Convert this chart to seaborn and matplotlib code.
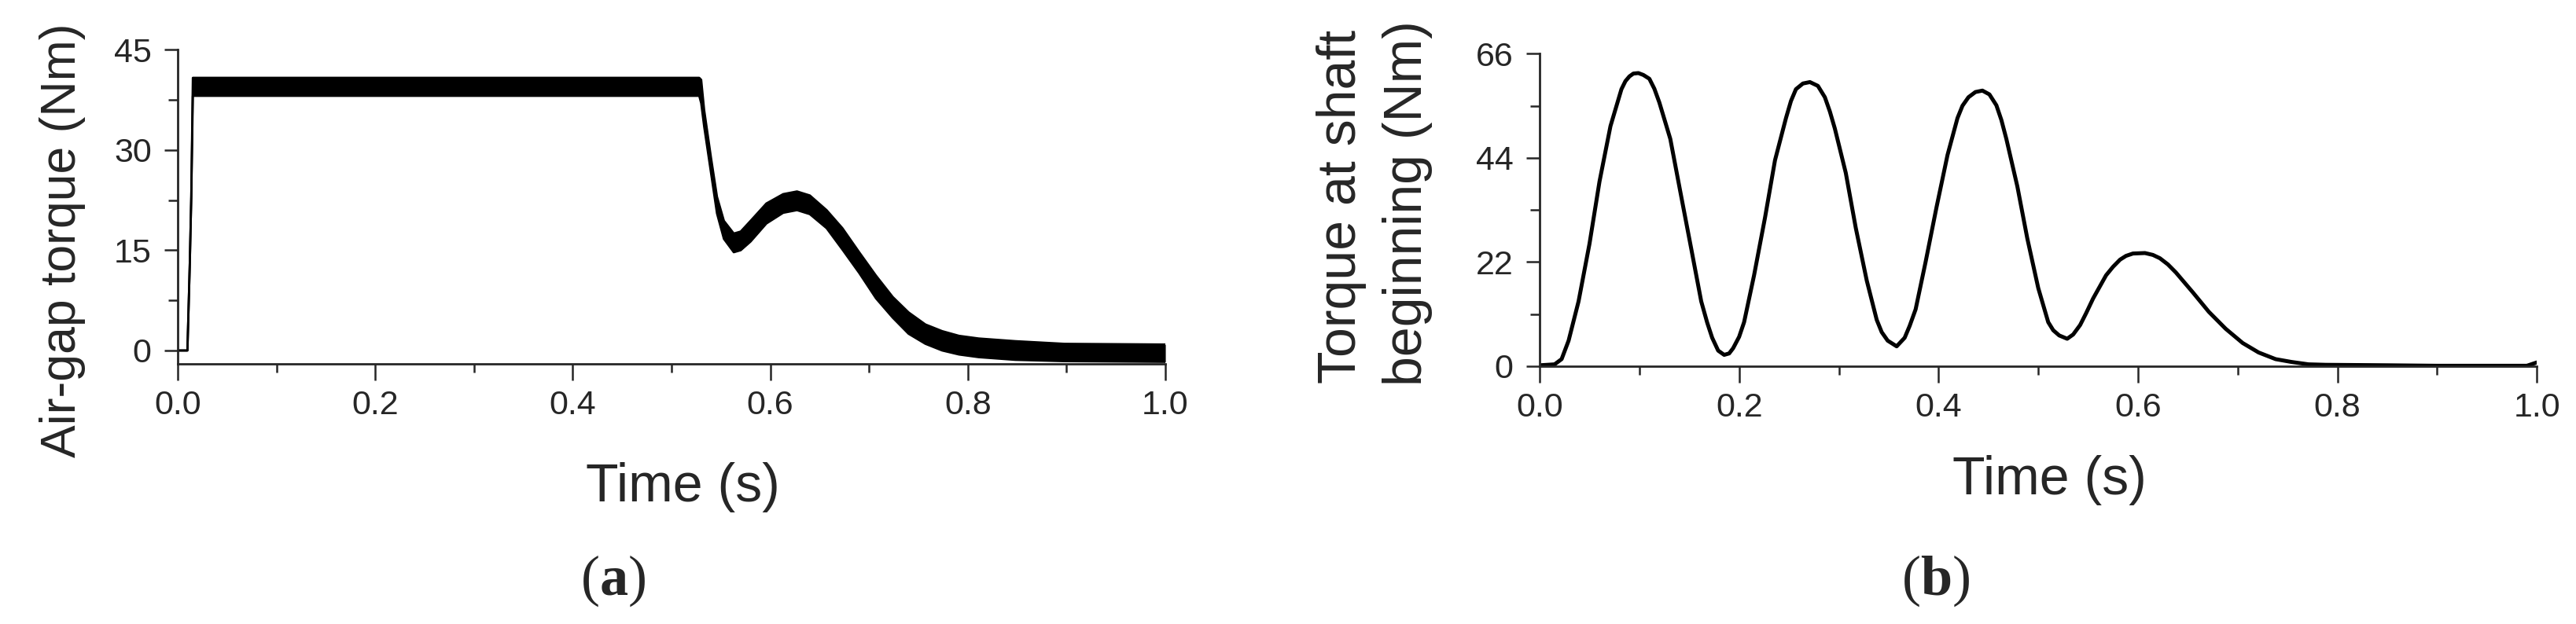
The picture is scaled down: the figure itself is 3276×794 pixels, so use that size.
import matplotlib
matplotlib.use("Agg")
import matplotlib.pyplot as plt
from matplotlib.ticker import MultipleLocator
import pandas as pd
import seaborn as sns

# (a) air-gap torque: lower / upper edge of the noisy band
time_a = [0.0, 0.0098, 0.0122, 0.0137, 0.0153, 0.528, 0.530, 0.533, 0.540, 0.546,
          0.553, 0.563, 0.570, 0.580, 0.596, 0.613, 0.627, 0.640, 0.657, 0.673,
          0.690, 0.707, 0.724, 0.740, 0.757, 0.774, 0.791, 0.811, 0.848, 0.898, 1.0]
torque_a_low = [0.0, 0.0, 13.0, 23.0, 38.1, 38.1, 37.0, 33.5, 26.5, 20.5,
                16.7, 14.7, 15.0, 16.3, 19.0, 20.6, 21.0, 20.4, 18.3, 15.1,
                11.6, 7.8, 4.9, 2.5, 1.0, 0.0, -0.6, -1.0, -1.4, -1.6, -1.7]
torque_a_high = [0.0, 0.0, 13.0, 23.0, 40.8, 40.8, 40.5, 36.0, 28.8, 23.0,
                 19.4, 17.5, 17.8, 19.4, 22.0, 23.4, 23.8, 23.2, 21.0, 18.3,
                 14.7, 11.2, 8.0, 5.7, 3.9, 2.9, 2.2, 1.8, 1.4, 1.0, 0.9]

# (b) torque at shaft beginning
time_b = [0.0, 0.008, 0.015, 0.022, 0.029, 0.039, 0.050, 0.060, 0.071, 0.082,
          0.086, 0.090, 0.094, 0.099, 0.104, 0.110, 0.115, 0.120, 0.131, 0.141,
          0.152, 0.162, 0.168, 0.173, 0.179, 0.185, 0.190, 0.194, 0.200, 0.205,
          0.215, 0.226, 0.236, 0.247, 0.252, 0.257, 0.264, 0.271, 0.279, 0.286,
          0.291, 0.296, 0.307, 0.317, 0.328, 0.338, 0.343, 0.349, 0.358, 0.366,
          0.371, 0.377, 0.387, 0.398, 0.409, 0.419, 0.424, 0.430, 0.437, 0.444,
          0.451, 0.458, 0.463, 0.468, 0.479, 0.489, 0.500, 0.510, 0.515, 0.521,
          0.529, 0.535, 0.542, 0.548, 0.555, 0.568, 0.575, 0.582, 0.588, 0.595,
          0.607, 0.615, 0.622, 0.630, 0.638, 0.655, 0.671, 0.688, 0.705, 0.721,
          0.738, 0.754, 0.771, 0.788, 0.850, 0.900, 0.990, 1.0]
torque_b = [0.2, 0.3, 0.4, 1.5, 5.4, 13.7, 25.9, 39.0, 50.7, 58.5,
            60.2, 61.2, 61.8, 61.9, 61.5, 60.7, 58.6, 55.7, 48.0, 36.9,
            24.8, 13.7, 9.2, 6.0, 3.3, 2.4, 2.7, 3.8, 6.2, 9.3,
            19.2, 31.4, 43.5, 52.4, 56.0, 58.5, 59.7, 60.0, 59.2, 56.8,
            53.8, 50.2, 40.8, 29.2, 18.1, 9.8, 7.2, 5.4, 4.2, 6.0,
            8.5, 12.0, 22.0, 33.6, 44.6, 52.4, 55.0, 56.8, 57.9, 58.2,
            57.4, 55.1, 52.0, 48.0, 38.0, 27.0, 16.5, 9.3, 7.6, 6.5,
            5.8, 6.7, 8.7, 11.2, 14.3, 19.2, 21.0, 22.5, 23.3, 23.8,
            23.9, 23.5, 22.8, 21.5, 19.8, 15.6, 11.5, 7.9, 4.9, 2.9,
            1.5, 0.9, 0.4, 0.3, 0.2, 0.1, 0.1, 0.8]

df_a = pd.DataFrame({"t": time_a, "low": torque_a_low, "high": torque_a_high})
df_b = pd.DataFrame({"t": time_b, "torque": torque_b})

sns.set_style("ticks")
plt.rcParams["font.family"] = ["Liberation Sans", "DejaVu Sans"]
plt.rcParams["mathtext.fontset"] = "custom"
plt.rcParams["mathtext.rm"] = "Liberation Serif"
plt.rcParams["mathtext.bf"] = "Liberation Serif:bold"

SANS = ["Liberation Sans", "DejaVu Sans"]
SERIF = ["Liberation Serif", "DejaVu Serif"]

fig = plt.figure(figsize=(32.76, 7.94), dpi=100)
ax_a = fig.add_axes([0.0690, 0.4172, 0.3834, 0.5031])
ax_b = fig.add_axes([0.5977, 0.4131, 0.3871, 0.5009])

# panel a
ax_a.fill_between(df_a["t"], df_a["low"], df_a["high"], color="black", lw=0)
sns.lineplot(data=df_a, x="t", y="low", ax=ax_a, color="black", lw=2, estimator=None)
sns.lineplot(data=df_a, x="t", y="high", ax=ax_a, color="black", lw=2, estimator=None)
ax_a.set_xlim(0, 1.0)
ax_a.set_ylim(-1.97, 45)
ax_a.yaxis.set_major_locator(MultipleLocator(15))
ax_a.yaxis.set_minor_locator(MultipleLocator(7.5))

# panel b
sns.lineplot(data=df_b, x="t", y="torque", ax=ax_b, color="black", lw=3.6, estimator=None)
ax_b.set_xlim(0, 1.0)
ax_b.set_ylim(0, 66)
ax_b.yaxis.set_major_locator(MultipleLocator(22))
ax_b.yaxis.set_minor_locator(MultipleLocator(11))

for ax in (ax_a, ax_b):
    ax.set_xlabel("")
    ax.set_ylabel("")
    ax.xaxis.set_major_locator(MultipleLocator(0.2))
    ax.xaxis.set_minor_locator(MultipleLocator(0.1))
    ax.xaxis.set_major_formatter(lambda v, p: f"{v:.1f}")
    sns.despine(ax=ax)
    for s in ("left", "bottom"):
        ax.spines[s].set_linewidth(2)
    ax.tick_params(axis="x", which="major", length=15, width=1.8, pad=9, labelsize=31)
    ax.tick_params(axis="x", which="minor", length=8, width=1.8)
    ax.tick_params(axis="y", which="major", length=12, width=1.8, pad=12, labelsize=31)
    ax.tick_params(axis="y", which="minor", length=8.5, width=1.8)

# axis titles
fig.text(0.0243, 0.6146, "Air-gap torque (Nm)", rotation=90, ha="center", va="center",
         fontsize=45, family=SANS)
fig.text(0.5208, 0.6688, "Torque at shaft", rotation=90, ha="center", va="center",
         fontsize=49, family=SANS)
fig.text(0.5464, 0.6738, "beginning (Nm)", rotation=90, ha="center", va="center",
         fontsize=49, family=SANS)
fig.text(0.2650, 0.1965, "Time (s)", ha="center", va="baseline", fontsize=49, family=SANS)
fig.text(0.7955, 0.2078, "Time (s)", ha="center", va="baseline", fontsize=49, family=SANS)

# sub-figure captions
fig.text(0.2381, 0.0466, r"($\mathbf{a}$)", ha="center", va="baseline", fontsize=52, family=SERIF)
fig.text(0.7515, 0.0466, r"($\mathbf{b}$)", ha="center", va="baseline", fontsize=52, family=SERIF)

fig.savefig("out.png", dpi=100, facecolor="white")
